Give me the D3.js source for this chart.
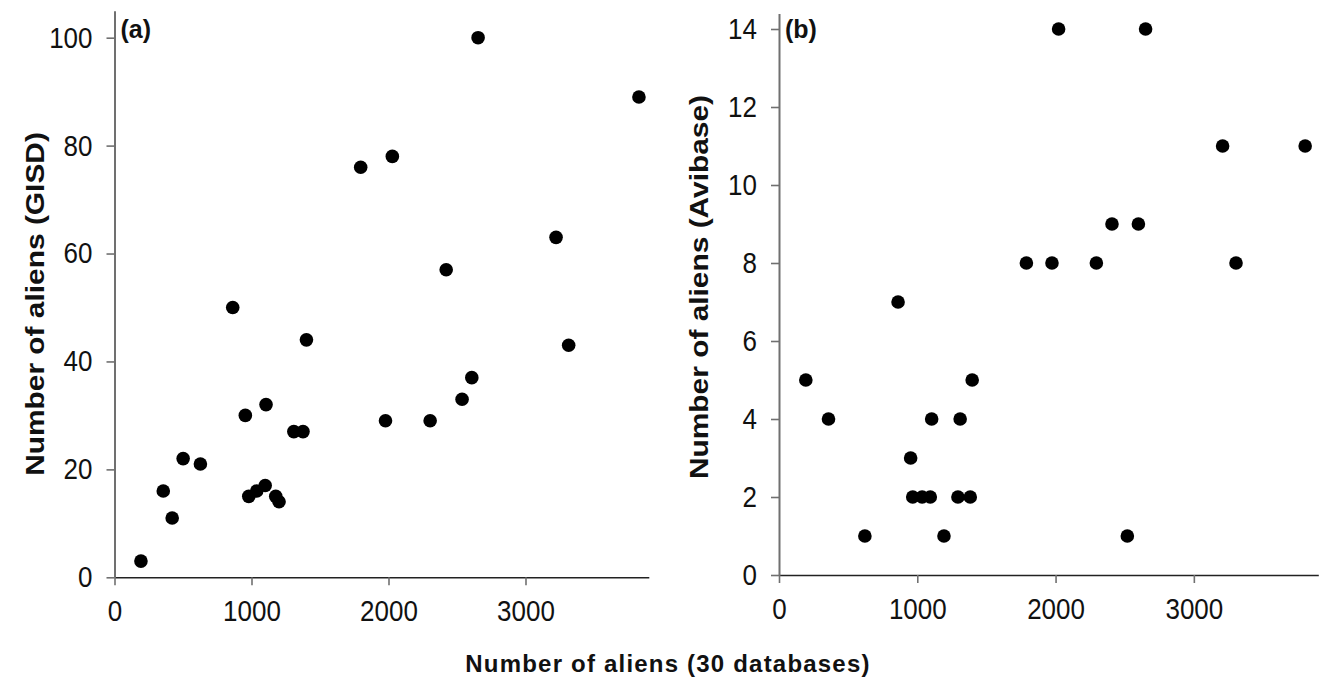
<!DOCTYPE html>
<html>
<head>
<meta charset="utf-8">
<script src="https://cdn.jsdelivr.net/npm/d3@7"></script>
<style>
  body { margin: 0; background: #fff; }
  svg { display: block; font-family: "Liberation Sans", Arial, sans-serif; }
  .tick text {
    font-size: 26px;
    fill: #111;
    transform-box: fill-box;
    transform-origin: center;
    transform: scaleY(1.12);
  }
  .y-axis .domain { stroke: #707070; stroke-width: 2; }
  .x-axis .domain { stroke: #222; stroke-width: 1.6; }
  .tick line { stroke: #707070; stroke-width: 1.6; }
</style>
</head>
<body>
<div id="chart"></div>
<script>
const width = 1319;
const height = 689;

// x: number of aliens (30 databases)
const xTicks = [0, 1000, 2000, 3000];

// panel (a): GISD
const gisdX = [193, 356, 421, 501, 627, 863, 955, 980, 1038, 1100, 1106, 1177, 1201, 1309, 1376, 1401, 1797, 1978, 2028, 2304, 2421, 2537, 2608, 2654, 3223, 3315, 3828];
const gisdY = [3, 16, 11, 22, 21, 50, 30, 15, 16, 17, 32, 15, 14, 27, 27, 44, 76, 29, 78, 29, 57, 33, 37, 100, 63, 43, 89];
const gisdTicks = [0, 20, 40, 60, 80, 100];

// panel (b): Avibase
const aviX = [194, 358, 621, 861, 952, 967, 1035, 1094, 1104, 1193, 1294, 1310, 1383, 1397, 1789, 1974, 2022, 2295, 2408, 2519, 2599, 2651, 3208, 3305, 3805];
const aviY = [5, 4, 1, 7, 3, 2, 2, 2, 4, 1, 2, 4, 2, 5, 8, 8, 14, 8, 9, 1, 9, 14, 11, 8, 11];
const aviTicks = [0, 2, 4, 6, 8, 10, 12, 14];

const svg = d3.select("#chart")
  .append("svg")
  .attr("width", width)
  .attr("height", height);

const panels = [
  { label: "(a)", title: "Number of aliens (GISD)", xs: gisdX, ys: gisdY, yTicks: gisdTicks,
    yMax: 105, left: 114.5, right: 648.8, top: 10.7, bottom: 577.3, titleY: 304 },
  { label: "(b)", title: "Number of aliens (Avibase)", xs: aviX, ys: aviY, yTicks: aviTicks,
    yMax: 14.4, left: 779, right: 1318.3, top: 13.4, bottom: 575, titleY: 287 }
];

panels.forEach(p => {
  const x = d3.scaleLinear().domain([0, 3900]).range([p.left, p.right]);
  const y = d3.scaleLinear().domain([0, p.yMax]).range([p.bottom, p.top]);

  svg.append("g")
    .attr("class", "x-axis")
    .attr("transform", `translate(0,${p.bottom})`)
    .call(d3.axisBottom(x).tickValues(xTicks).tickFormat(d3.format("d"))
      .tickSizeInner(8).tickSizeOuter(0).tickPadding(16));

  svg.append("g")
    .attr("class", "y-axis")
    .attr("transform", `translate(${p.left},0)`)
    .call(d3.axisLeft(y).tickValues(p.yTicks).tickFormat(d3.format("d"))
      .tickSizeInner(8).tickSizeOuter(0).tickPadding(14));

  svg.selectAll(".domain").attr("fill", "none");

  svg.append("g")
    .selectAll("circle")
    .data(p.xs.map((v, i) => [v, p.ys[i]]))
    .enter()
    .append("circle")
    .attr("cx", d => x(d[0]))
    .attr("cy", d => y(d[1]))
    .attr("r", 6.8)
    .attr("fill", "#000");

  svg.append("text")
    .attr("x", p.left + 6)
    .attr("y", 38)
    .attr("font-size", "25px")
    .attr("font-weight", "bold")
    .attr("fill", "#111")
    .text(p.label);

  svg.append("g")
    .attr("transform", `translate(${p.left - 71},${p.titleY}) rotate(-90)`)
    .append("text")
    .attr("text-anchor", "middle")
    .attr("font-size", "26px")
    .attr("font-weight", "bold")
    .attr("fill", "#111")
    .style("transform-box", "fill-box")
    .style("transform-origin", "center")
    .style("transform", "scaleX(1.15)")
    .text(p.title);
});

svg.append("text")
  .attr("x", 668)
  .attr("y", 672)
  .attr("text-anchor", "middle")
  .attr("font-size", "24px")
  .attr("font-weight", "bold")
  .attr("letter-spacing", "1.2px")
  .attr("fill", "#111")
  .text("Number of aliens (30 databases)");
</script>
</body>
</html>
